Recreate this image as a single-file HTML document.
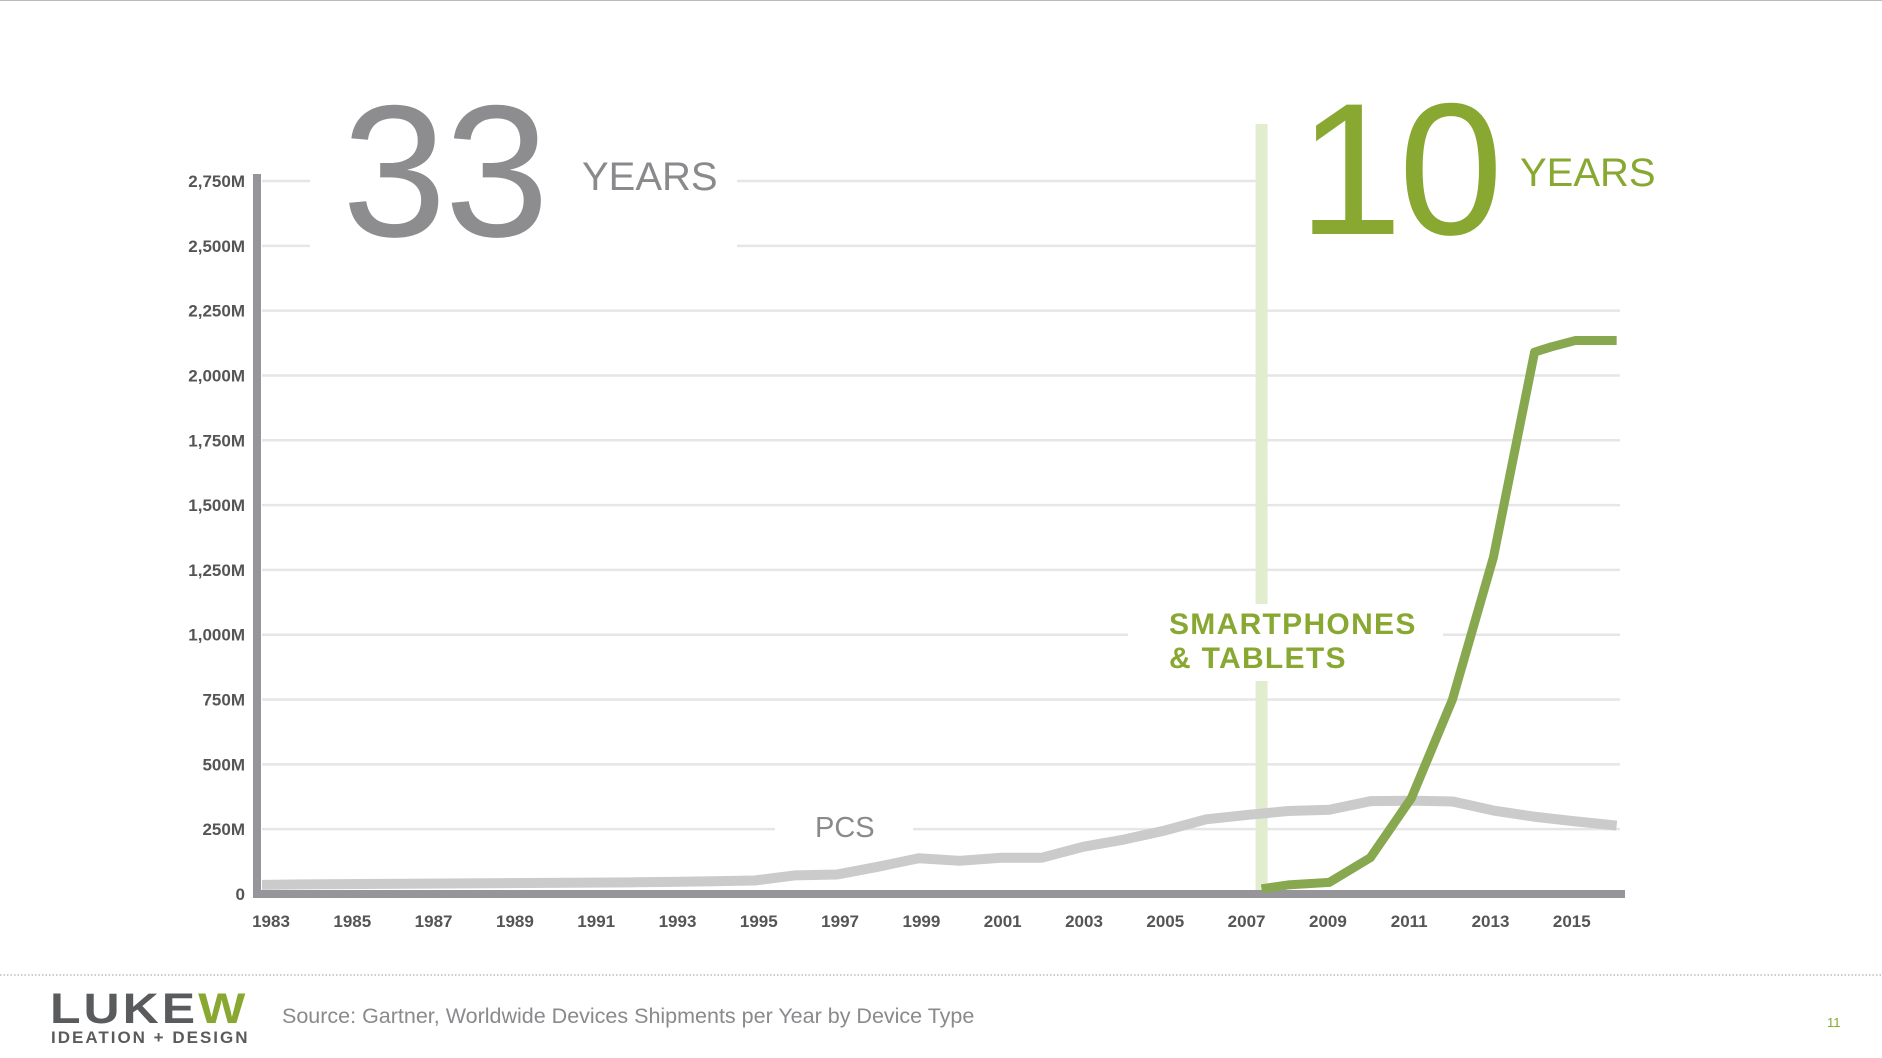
<!DOCTYPE html>
<html><head><meta charset="utf-8"><style>
html,body{margin:0;padding:0;background:#fff;}
svg{display:block;font-family:"Liberation Sans",sans-serif;}
</style></head><body>
<svg id="chart" width="1882" height="1058" viewBox="0 0 1882 1058">
<line x1="0" y1="0.5" x2="1882" y2="0.5" stroke="#bbb" stroke-width="1"/>
<g id="grid"></g>
<g id="masks"></g>
<g id="ylabels"></g>
<g id="xlabels"></g>
<g id="series"></g>
<text x="342" y="236" font-size="188" fill="#8d8d90" letter-spacing="-2">33</text>
<text x="582" y="190" font-size="40" fill="#8a8a8d">YEARS</text>
<text x="1298" y="234" font-size="188" fill="#88a832" letter-spacing="-4">10</text>
<text x="1520" y="186" font-size="40" fill="#88a832">YEARS</text>
<text x="815" y="837" font-size="29" fill="#8a8a8d">PCS</text>
<text x="1169" y="634" font-size="30" fill="#88a832" font-weight="bold" letter-spacing="1.3">SMARTPHONES</text>
<text x="1169" y="668" font-size="30" fill="#88a832" font-weight="bold" letter-spacing="1.3">&amp; TABLETS</text>
<line x1="0" y1="975" x2="1882" y2="975" stroke="#999" stroke-width="1" stroke-dasharray="1.5,2"/>
<g>
<text x="50" y="1023" font-size="50" font-weight="bold" fill="#5a5b5d" letter-spacing="3" transform="scale(1,0.85)" style="transform-origin:50px 1023px">LUKE<tspan fill="#88a832">W</tspan></text>
<text x="51" y="1043" font-size="17" font-weight="bold" fill="#5a5b5d" letter-spacing="2">IDEATION + DESIGN</text>
</g>
<text x="282" y="1023" font-size="21.5" fill="#8a8a8d">Source: Gartner, Worldwide Devices Shipments per Year by Device Type</text>
<text x="1827" y="1027" font-size="13" fill="#88a832">11</text>
</svg>
<script>
const yTicks=[0,250,500,750,1000,1250,1500,1750,2000,2250,2500,2750];
const yTickLabels=["0","250M","500M","750M","1,000M","1,250M","1,500M","1,750M","2,000M","2,250M","2,500M","2,750M"];
const xTickYears=[1983,1985,1987,1989,1991,1993,1995,1997,1999,2001,2003,2005,2007,2009,2011,2013,2015];
const pcYears=[1983,1984,1985,1986,1987,1988,1989,1990,1991,1992,1993,1994,1995,1996,1997,1998,1999,2000,2001,2002,2003,2004,2005,2006,2007,2008,2009,2010,2011,2012,2013,2014,2015,2016];
const pcValues=[35,37,38,39,40,41,42,43,44,45,47,49,52,72,75,105,138,128,140,140,182,210,245,288,305,320,325,358,360,357,322,298,280,264];
const mobileYears=[2007.35,2008,2009,2010,2011,2012,2013,2014,2014.4,2015,2016];
const mobileValues=[20,35,45,140,370,750,1300,2090,2110,2135,2135];
const NS="http://www.w3.org/2000/svg";
const X0=262,XSTEP=41.05,Y0=894,YMAX=2750,YTOP=181;
function xs(yr){return X0+(yr-1983)*XSTEP;}
function xlab(yr){return 271+(yr-1983)*40.65;}
function ys(v){return Y0-v*(Y0-YTOP)/YMAX;}
function mk(tag,attrs,parent){const e=document.createElementNS(NS,tag);for(const k in attrs)e.setAttribute(k,attrs[k]);parent.appendChild(e);return e;}
const grid=document.getElementById('grid');
yTicks.forEach((v,i)=>{if(v===0)return;
 const l=mk('line',{x1:262,x2:1620,y1:ys(v),y2:ys(v),stroke:'#e6e6e8','stroke-width':2.5},grid);
 
 });
const masks=document.getElementById('masks');
[[310,150,427,100],[1258,90,380,195],[1128,600,315,90],[775,810,138,40]].forEach(r=>{
 const m=mk('rect',{x:r[0],y:r[1],width:r[2],height:r[3],fill:'#fff'},masks);
 
 });
const yl=document.getElementById('ylabels');
yTicks.forEach((v,i)=>{const t=mk('text',{x:245,y:ys(v)+6,'text-anchor':'end','font-size':17,'font-weight':'600',fill:'#555'},yl);t.textContent=yTickLabels[i];
 
 });
const xl=document.getElementById('xlabels');
xTickYears.forEach(yr=>{const t=mk('text',{x:xlab(yr),y:927,'text-anchor':'middle','font-size':17,'font-weight':'600',fill:'#555'},xl);t.textContent=yr;
 
 });
const s=document.getElementById('series');
const vb1=mk('rect',{x:xs(2007.35)-6,y:124,width:12,height:480,fill:'#e2edcf'},s);


const vb2=mk('rect',{x:xs(2007.35)-6,y:681,width:12,height:213,fill:'#e2edcf'},s);


const pc=mk('polyline',{points:pcYears.map((y,i)=>xs(y)+','+ys(pcValues[i])).join(' '),fill:'none',stroke:'#cbcbcc','stroke-width':10,'stroke-linejoin':'round'},s);


const ya=mk('rect',{x:253,y:174,width:8,height:724,fill:'#96969a'},s);


const xa=mk('rect',{x:253,y:890,width:1372,height:8,fill:'#96969a'},s);


const mob=mk('polyline',{points:mobileYears.map((y,i)=>xs(y)+','+ys(mobileValues[i])).join(' '),fill:'none',stroke:'#88a84f','stroke-width':9,'stroke-linejoin':'round'},s);


</script>
</body></html>
